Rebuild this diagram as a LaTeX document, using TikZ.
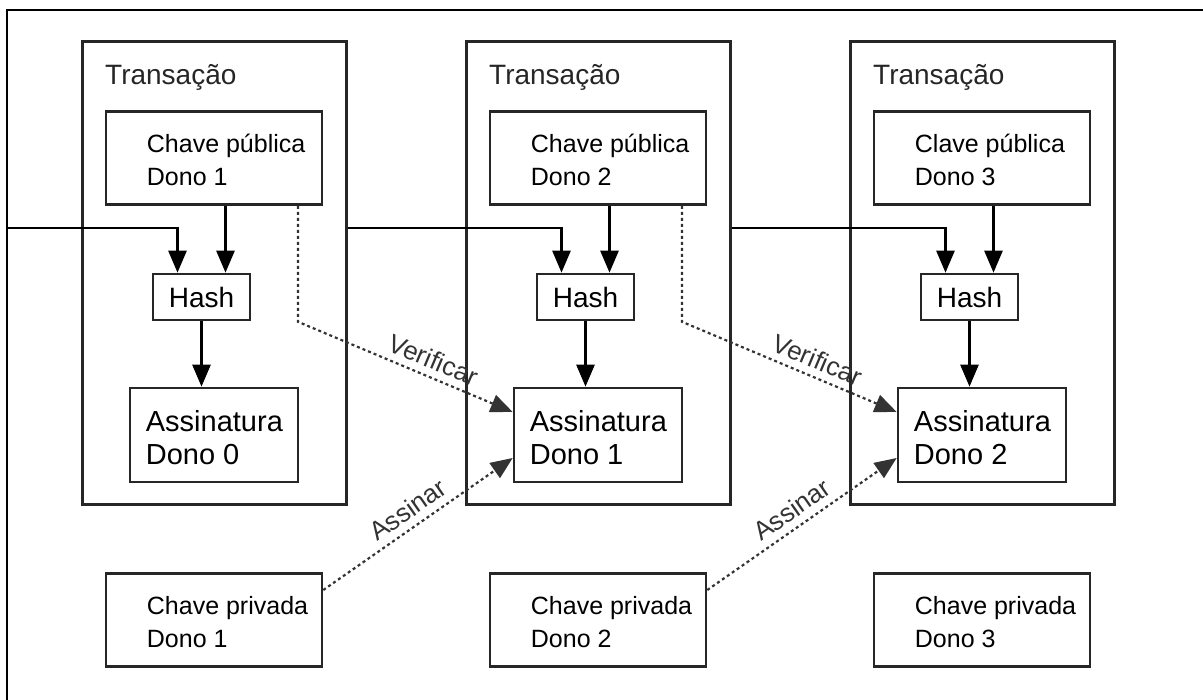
\documentclass[tikz,border=0pt]{standalone}
\usepackage{fontspec}
\setmainfont{Liberation Sans}
\usepackage{tikz}
\usetikzlibrary{arrows, arrows.meta}

\tikzset{
	caixa/.style={draw=black!85, line width=2.6pt, inner sep=0pt},
	bloco/.style={caixa, line width=3pt, minimum width=264, minimum height=463},
	chave/.style={caixa, minimum width=216, minimum height=93},
	assin/.style={caixa, minimum width=168, minimum height=94},
	hashbox/.style={caixa, minimum width=97, minimum height=46, font=\fontsize{28}{28}\selectfont},
	texto/.style={anchor=west, align=left, inner sep=0pt, font=\fontsize{25}{33}\selectfont},
	textogr/.style={anchor=west, align=left, inner sep=0pt, font=\fontsize{29}{33}\selectfont},
	titulo/.style={anchor=base west, inner sep=0pt, font=\fontsize{28}{28}\selectfont, text=black!85},
	seta/.style={->, line width=2.6pt},
	pontilhada/.style={->, line width=2.2pt, draw=black!80, dash pattern=on 3pt off 3pt},
	rotulo/.style={sloped, inner sep=0pt, font=\fontsize{26}{26}\selectfont, text=black!80}
}

\begin{document}
\begin{tikzpicture}[x=1pt, y=-1pt, >={Triangle[length=22pt, width=18pt]}]
	\useasboundingbox (0,0) rectangle (1203,700);

	% moldura
	\draw[line width=2pt] (7,700) -- (7,10) -- (1203,10);
	\coordinate (ent) at (7,228);

	% transacoes
	\node[bloco] (tx1) at (214,273.5) {};
	\node[bloco] (tx2) at (598,273.5) {};
	\node[bloco] (tx3) at (982,273.5) {};
	\node[titulo] (tt1) at (105,85) {Transação};
	\node[titulo] (tt2) at (489,85) {Transação};
	\node[titulo] (tt3) at (873,85) {Transação};

	% chaves publicas
	\node[chave] (pub1) at (214,158) {};
	\node[chave] (pub2) at (598,158) {};
	\node[chave] (pub3) at (982,158) {};
	\node[texto] (pt1) at ([xshift=42, yshift=-2]pub1.west) {Chave pública\\Dono 1};
	\node[texto] (pt2) at ([xshift=42, yshift=-2]pub2.west) {Chave pública\\Dono 2};
	\node[texto] (pt3) at ([xshift=42, yshift=-2]pub3.west) {Clave pública\\Dono 3};

	% hashes
	\node[hashbox] (hash1) at (201.5,297) {Hash};
	\node[hashbox] (hash2) at (585.5,297) {Hash};
	\node[hashbox] (hash3) at (969.5,297) {Hash};

	% assinaturas
	\node[assin] (sig1) at (214,435) {};
	\node[assin] (sig2) at (598,435) {};
	\node[assin] (sig3) at (982,435) {};
	\node[textogr] (st1) at ([xshift=17, yshift=-3]sig1.west) {Assinatura\\Dono 0};
	\node[textogr] (st2) at ([xshift=17, yshift=-3]sig2.west) {Assinatura\\Dono 1};
	\node[textogr] (st3) at ([xshift=17, yshift=-3]sig3.west) {Assinatura\\Dono 2};

	% chaves privadas
	\node[chave] (priv1) at (214,620) {};
	\node[chave] (priv2) at (598,620) {};
	\node[chave] (priv3) at (982,620) {};
	\node[texto] (vt1) at ([xshift=42, yshift=-2]priv1.west) {Chave privada\\Dono 1};
	\node[texto] (vt2) at ([xshift=42, yshift=-2]priv2.west) {Chave privada\\Dono 2};
	\node[texto] (vt3) at ([xshift=42, yshift=-2]priv3.west) {Chave privada\\Dono 3};

	% cadeia
	\draw[seta] (ent) -| ([xshift=-24]hash1.north);
	\draw[seta] (tx1.east |- ent) -| ([xshift=-24]hash2.north);
	\draw[seta] (tx2.east |- ent) -| ([xshift=-24]hash3.north);

	\draw[seta] ([xshift=24]hash1.north |- pub1.south) -- ([xshift=24]hash1.north);
	\draw[seta] ([xshift=24]hash2.north |- pub2.south) -- ([xshift=24]hash2.north);
	\draw[seta] ([xshift=24]hash3.north |- pub3.south) -- ([xshift=24]hash3.north);

	\draw[seta] (hash1.south) -- (hash1.south |- sig1.north);
	\draw[seta] (hash2.south) -- (hash2.south |- sig2.north);
	\draw[seta] (hash3.south) -- (hash3.south |- sig3.north);

	% verificar / assinar
	\draw[pontilhada] ([xshift=84]pub1.south) -- ++(0,116) -- ([yshift=23]sig2.west)
		node[rotulo, pos=0.6, above=7pt] {Verificar};
	\draw[pontilhada] ([xshift=84]pub2.south) -- ++(0,116) -- ([yshift=23]sig3.west)
		node[rotulo, pos=0.6, above=7pt] {Verificar};
	\draw[pontilhada] ([yshift=30]priv1.east) -- ([yshift=-23]sig2.west)
		node[rotulo, pos=0.5, above=7pt] {Assinar};
	\draw[pontilhada] ([yshift=30]priv2.east) -- ([yshift=-23]sig3.west)
		node[rotulo, pos=0.5, above=7pt] {Assinar};
\end{tikzpicture}
\end{document}
